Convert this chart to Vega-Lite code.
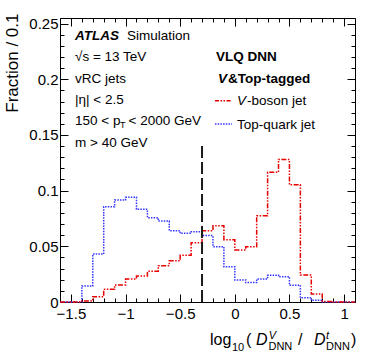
{
  "$schema": "https://vega.github.io/schema/vega-lite/v6.json",
  "width": 295,
  "height": 284,
  "autosize": {"type": "none"},
  "padding": {"left": 60, "top": 18, "right": 19, "bottom": 57},
  "background": "white",
  "config": {
    "font": "Liberation Sans",
    "view": {"stroke": "black", "strokeWidth": 1},
    "axis": {"domain": false, "grid": false, "tickColor": "black", "tickWidth": 1, "labelColor": "black", "labelFont": "Liberation Sans", "labelFontSize": 15, "titleFont": "Liberation Sans", "titleColor": "black"}
  },
  "datasets": {
    "top": [
      {"x": -1.6, "f": 0}, {"x": -1.5, "f": 0}, {"x": -1.4, "f": 0.0144}, {"x": -1.3, "f": 0.0431},
      {"x": -1.2, "f": 0.0856}, {"x": -1.1, "f": 0.0916}, {"x": -1.0, "f": 0.094}, {"x": -0.9, "f": 0.0832},
      {"x": -0.8, "f": 0.0757}, {"x": -0.7, "f": 0.0727}, {"x": -0.6, "f": 0.064}, {"x": -0.5, "f": 0.0617},
      {"x": -0.4, "f": 0.0631}, {"x": -0.3, "f": 0.0596}, {"x": -0.2, "f": 0.0497}, {"x": -0.1, "f": 0.0317},
      {"x": 0.0, "f": 0.0198}, {"x": 0.1, "f": 0.0174}, {"x": 0.2, "f": 0.0206}, {"x": 0.3, "f": 0.024},
      {"x": 0.4, "f": 0.0227}, {"x": 0.5, "f": 0.015}, {"x": 0.6, "f": 0.0039}, {"x": 0.7, "f": 0.0015},
      {"x": 0.8, "f": 0}, {"x": 0.9, "f": 0}, {"x": 1.0, "f": 0}, {"x": 1.1, "f": 0}
    ],
    "vb": [
      {"x": -1.6, "f": 0}, {"x": -1.5, "f": 0}, {"x": -1.4, "f": 0.001}, {"x": -1.3, "f": 0.0048},
      {"x": -1.2, "f": 0.0114}, {"x": -1.1, "f": 0.0153}, {"x": -1.0, "f": 0.0207}, {"x": -0.9, "f": 0.0233},
      {"x": -0.8, "f": 0.0275}, {"x": -0.7, "f": 0.0326}, {"x": -0.6, "f": 0.0371}, {"x": -0.5, "f": 0.0419},
      {"x": -0.4, "f": 0.0533}, {"x": -0.3, "f": 0.064}, {"x": -0.2, "f": 0.0685}, {"x": -0.1, "f": 0.056},
      {"x": 0.0, "f": 0.0467}, {"x": 0.1, "f": 0.0497}, {"x": 0.2, "f": 0.0775}, {"x": 0.3, "f": 0.1164},
      {"x": 0.4, "f": 0.128}, {"x": 0.5, "f": 0.1053}, {"x": 0.6, "f": 0.0242}, {"x": 0.7, "f": 0.0072},
      {"x": 0.8, "f": 0.0005}, {"x": 0.9, "f": 0}, {"x": 1.0, "f": 0}, {"x": 1.1, "f": 0}
    ]
  },
  "resolve": {"axis": {"x": "independent", "y": "independent"}},
  "layer": [
    {
      "data": {"name": "top"},
      "mark": {"type": "line", "interpolate": "step-after", "color": "#3535ff", "strokeWidth": 1.5, "strokeDash": [1.5, 1.2]},
      "encoding": {
        "x": {"field": "x", "type": "quantitative", "scale": {"domain": [-1.6, 1.1], "nice": false, "zero": false},
              "axis": {"orient": "bottom", "values": [-1.5, -1, -0.5, 0, 0.5, 1], "format": "~g", "tickSize": -8, "labelPadding": 12, "title": null}},
        "y": {"field": "f", "type": "quantitative", "scale": {"domain": [0, 0.255], "nice": false},
              "axis": {"orient": "left", "values": [0, 0.05, 0.1, 0.15, 0.2, 0.25], "format": "~g", "tickSize": -8, "labelPadding": 10,
                       "title": "Fraction / 0.1", "titleFontSize": 17, "titleFontWeight": "normal", "titleAngle": -90,
                       "titleAlign": "right", "titleBaseline": "alphabetic", "titleX": -43, "titleY": -5}}
      }
    },
    {
      "data": {"name": "vb"},
      "mark": {"type": "line", "interpolate": "step-after", "color": "#e80000", "strokeWidth": 1.5, "strokeDash": [5, 1.5, 1.5, 1.5, 1.5, 1.5]},
      "encoding": {
        "x": {"field": "x", "type": "quantitative", "scale": {"domain": [-1.6, 1.1], "nice": false, "zero": false},
              "axis": {"orient": "bottom", "values": [-1.6, -1.5, -1.4, -1.3, -1.2, -1.1, -1.0, -0.9, -0.8, -0.7, -0.6, -0.5, -0.4, -0.3, -0.2, -0.1, 0, 0.1, 0.2, 0.3, 0.4, 0.5, 0.6, 0.7, 0.8, 0.9, 1.0, 1.1], "tickSize": -4, "labels": false, "title": null}},
        "y": {"field": "f", "type": "quantitative", "scale": {"domain": [0, 0.255], "nice": false},
              "axis": {"orient": "left", "values": [0, 0.01, 0.02, 0.03, 0.04, 0.05, 0.06, 0.07, 0.08, 0.09, 0.1, 0.11, 0.12, 0.13, 0.14, 0.15, 0.16, 0.17, 0.18, 0.19, 0.2, 0.21, 0.22, 0.23, 0.24, 0.25], "tickSize": -4, "labels": false, "title": null}}
      }
    },
    {
      "data": {"values": [{"x": -0.3, "y": 0, "y2": 0.14}]},
      "mark": {"type": "rule", "color": "#1a1a1a", "strokeWidth": 2, "strokeDash": [12, 4]},
      "encoding": {
        "x": {"field": "x", "type": "quantitative", "scale": {"domain": [-1.6, 1.1], "nice": false, "zero": false},
              "axis": {"orient": "top", "values": [-1.5, -1, -0.5, 0, 0.5, 1], "tickSize": -8, "labels": false, "title": null}},
        "y": {"field": "y", "type": "quantitative", "scale": {"domain": [0, 0.255], "nice": false},
              "axis": {"orient": "right", "values": [0, 0.05, 0.1, 0.15, 0.2, 0.25], "tickSize": -8, "labels": false, "title": null}},
        "y2": {"field": "y2"}
      }
    },
    {
      "data": {"values": [{"x": -0.1814, "x2": -0.0258, "y": 0.1808}]},
      "mark": {"type": "rule", "color": "#e80000", "strokeWidth": 1.5, "strokeDash": [4, 1.5, 1.5, 1.5, 1.5, 1.5]},
      "encoding": {
        "x": {"field": "x", "type": "quantitative", "scale": {"domain": [-1.6, 1.1], "nice": false, "zero": false},
              "axis": {"orient": "top", "values": [-1.6, -1.5, -1.4, -1.3, -1.2, -1.1, -1.0, -0.9, -0.8, -0.7, -0.6, -0.5, -0.4, -0.3, -0.2, -0.1, 0, 0.1, 0.2, 0.3, 0.4, 0.5, 0.6, 0.7, 0.8, 0.9, 1.0, 1.1], "tickSize": -4, "labels": false, "title": null}},
        "x2": {"field": "x2"},
        "y": {"field": "y", "type": "quantitative", "scale": {"domain": [0, 0.255], "nice": false},
              "axis": {"orient": "right", "values": [0, 0.01, 0.02, 0.03, 0.04, 0.05, 0.06, 0.07, 0.08, 0.09, 0.1, 0.11, 0.12, 0.13, 0.14, 0.15, 0.16, 0.17, 0.18, 0.19, 0.2, 0.21, 0.22, 0.23, 0.24, 0.25], "tickSize": -4, "labels": false, "title": null}}
      }
    },
    {
      "data": {"values": [{"x": -0.1814, "x2": -0.0258, "y": 0.1598}]},
      "mark": {"type": "rule", "color": "#3535ff", "strokeWidth": 1.5, "strokeDash": [1.5, 1.2]},
      "encoding": {
        "x": {"field": "x", "type": "quantitative", "scale": {"domain": [-1.6, 1.1], "nice": false, "zero": false}, "axis": null},
        "x2": {"field": "x2"},
        "y": {"field": "y", "type": "quantitative", "scale": {"domain": [0, 0.255], "nice": false}, "axis": null}
      }
    },
    {
      "data": {"values": [
        {"x": -0.9868, "y": 0.2355, "t": "Simulation"},
        {"x": -1.4627, "y": 0.2160, "t": "√s = 13 TeV"},
        {"x": -1.4627, "y": 0.1966, "t": "vRC jets"},
        {"x": -1.4627, "y": 0.1778, "t": "|η| < 2.5"},
        {"x": -1.4627, "y": 0.1586, "t": "150 < p"},
        {"x": -0.9730, "y": 0.1586, "t": "< 2000 GeV"},
        {"x": -1.4627, "y": 0.1388, "t": "m > 40 GeV"},
        {"x": 0.1115, "y": 0.1765, "t": "-boson jet"},
        {"x": 0.0200, "y": 0.1556, "t": "Top-quark jet"}
      ]},
      "mark": {"type": "text", "align": "left", "baseline": "alphabetic", "fontSize": 13.5, "font": "Liberation Sans", "color": "black"},
      "encoding": {
        "x": {"field": "x", "type": "quantitative", "scale": {"domain": [-1.6, 1.1], "nice": false, "zero": false}, "axis": null},
        "y": {"field": "y", "type": "quantitative", "scale": {"domain": [0, 0.255], "nice": false}, "axis": null},
        "text": {"field": "t"}
      }
    },
    {
      "data": {"values": [
        {"x": -1.4627, "y": 0.2355, "t": "ATLAS"},
        {"x": -0.1539, "y": 0.1966, "t": "V"}
      ]},
      "mark": {"type": "text", "align": "left", "baseline": "alphabetic", "fontSize": 13.5, "fontWeight": "bold", "fontStyle": "italic", "font": "Liberation Sans", "color": "black"},
      "encoding": {
        "x": {"field": "x", "type": "quantitative", "scale": {"domain": [-1.6, 1.1], "nice": false, "zero": false}, "axis": null},
        "y": {"field": "y", "type": "quantitative", "scale": {"domain": [0, 0.255], "nice": false}, "axis": null},
        "text": {"field": "t"}
      }
    },
    {
      "data": {"values": [
        {"x": -0.1722, "y": 0.2167, "t": "VLQ DNN"},
        {"x": -0.0624, "y": 0.1966, "t": "&Top-tagged"}
      ]},
      "mark": {"type": "text", "align": "left", "baseline": "alphabetic", "fontSize": 13.5, "fontWeight": "bold", "font": "Liberation Sans", "color": "black"},
      "encoding": {
        "x": {"field": "x", "type": "quantitative", "scale": {"domain": [-1.6, 1.1], "nice": false, "zero": false}, "axis": null},
        "y": {"field": "y", "type": "quantitative", "scale": {"domain": [0, 0.255], "nice": false}, "axis": null},
        "text": {"field": "t"}
      }
    },
    {
      "data": {"values": [{"x": -1.0500, "y": 0.1559, "t": "T"}]},
      "mark": {"type": "text", "align": "left", "baseline": "alphabetic", "fontSize": 9, "font": "Liberation Sans", "color": "black"},
      "encoding": {
        "x": {"field": "x", "type": "quantitative", "scale": {"domain": [-1.6, 1.1], "nice": false, "zero": false}, "axis": null},
        "y": {"field": "y", "type": "quantitative", "scale": {"domain": [0, 0.255], "nice": false}, "axis": null},
        "text": {"field": "t"}
      }
    },
    {
      "data": {"values": [{"x": 0.0200, "y": 0.1765, "t": "V"}]},
      "mark": {"type": "text", "align": "left", "baseline": "alphabetic", "fontSize": 13.5, "fontStyle": "italic", "font": "Liberation Sans", "color": "black"},
      "encoding": {
        "x": {"field": "x", "type": "quantitative", "scale": {"domain": [-1.6, 1.1], "nice": false, "zero": false}, "axis": null},
        "y": {"field": "y", "type": "quantitative", "scale": {"domain": [0, 0.255], "nice": false}, "axis": null},
        "text": {"field": "t"}
      }
    },
    {
      "data": {"values": [
        {"x": -0.2272, "y": -0.0386, "t": "log"},
        {"x": 0.1024, "y": -0.0386, "t": "("},
        {"x": 0.5780, "y": -0.0386, "t": "/"},
        {"x": 1.0633, "y": -0.0386, "t": ")"}
      ]},
      "mark": {"type": "text", "align": "left", "baseline": "alphabetic", "fontSize": 16, "font": "Liberation Sans", "color": "black"},
      "encoding": {
        "x": {"field": "x", "type": "quantitative", "scale": {"domain": [-1.6, 1.1], "nice": false, "zero": false}, "axis": null},
        "y": {"field": "y", "type": "quantitative", "scale": {"domain": [0, 0.255], "nice": false}, "axis": null},
        "text": {"field": "t"}
      }
    },
    {
      "data": {"values": [
        {"x": -0.0258, "y": -0.0440, "t": "10"},
        {"x": 0.3077, "y": -0.0431, "t": "DNN"},
        {"x": 0.8346, "y": -0.0431, "t": "DNN"}
      ]},
      "mark": {"type": "text", "align": "left", "baseline": "alphabetic", "fontSize": 11, "font": "Liberation Sans", "color": "black"},
      "encoding": {
        "x": {"field": "x", "type": "quantitative", "scale": {"domain": [-1.6, 1.1], "nice": false, "zero": false}, "axis": null},
        "y": {"field": "y", "type": "quantitative", "scale": {"domain": [0, 0.255], "nice": false}, "axis": null},
        "text": {"field": "t"}
      }
    },
    {
      "data": {"values": [
        {"x": 0.1939, "y": -0.0386, "t": "D"},
        {"x": 0.7247, "y": -0.0386, "t": "D"}
      ]},
      "mark": {"type": "text", "align": "left", "baseline": "alphabetic", "fontSize": 16, "fontStyle": "italic", "font": "Liberation Sans", "color": "black"},
      "encoding": {
        "x": {"field": "x", "type": "quantitative", "scale": {"domain": [-1.6, 1.1], "nice": false, "zero": false}, "axis": null},
        "y": {"field": "y", "type": "quantitative", "scale": {"domain": [0, 0.255], "nice": false}, "axis": null},
        "text": {"field": "t"}
      }
    },
    {
      "data": {"values": [
        {"x": 0.3099, "y": -0.0332, "t": "V"},
        {"x": 0.8346, "y": -0.0332, "t": "t"}
      ]},
      "mark": {"type": "text", "align": "left", "baseline": "alphabetic", "fontSize": 11, "fontStyle": "italic", "font": "Liberation Sans", "color": "black"},
      "encoding": {
        "x": {"field": "x", "type": "quantitative", "scale": {"domain": [-1.6, 1.1], "nice": false, "zero": false}, "axis": null},
        "y": {"field": "y", "type": "quantitative", "scale": {"domain": [0, 0.255], "nice": false}, "axis": null},
        "text": {"field": "t"}
      }
    }
  ]
}
